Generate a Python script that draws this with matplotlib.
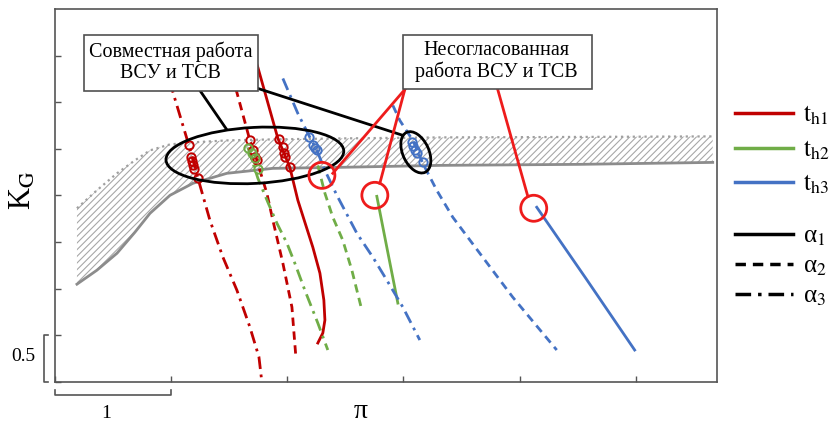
import matplotlib
matplotlib.use("Agg")
import matplotlib.pyplot as plt
from matplotlib.patches import Ellipse, Rectangle
from matplotlib.lines import Line2D
from matplotlib.transforms import ScaledTranslation
import numpy as np

plt.rcParams['font.family'] = ['Liberation Serif', 'DejaVu Serif']
plt.rcParams['mathtext.fontset'] = 'stix'
plt.rcParams['hatch.color'] = '#a8a8a8'
plt.rcParams['hatch.linewidth'] = 0.8

# ---- data ----
band_x = [0.189, 0.361, 0.534, 0.688, 0.818, 0.990, 1.188, 1.480, 1.876, 2.453, 3.313, 4.518, 5.663]
band_hi = [1.863, 2.056, 2.238, 2.377, 2.484, 2.548, 2.570, 2.591, 2.602, 2.612, 2.623, 2.628, 2.634]
band_lo = [1.049, 1.199, 1.381, 1.606, 1.809, 2.002, 2.131, 2.238, 2.291, 2.302, 2.323, 2.334, 2.355]

# t_h1 (red)
h1_a1_x = [1.713, 1.747, 1.919, 1.962, 2.022, 2.091, 2.220, 2.281, 2.315, 2.324, 2.306, 2.263]
h1_a1_y = [3.501, 3.373, 2.612, 2.484, 2.302, 1.949, 1.445, 1.167, 0.878, 0.664, 0.525, 0.418]
h1_a2_x = [1.523, 1.566, 1.678, 1.721, 1.764, 1.824, 1.876, 1.962, 2.040, 2.074]
h1_a2_y = [3.287, 3.105, 2.591, 2.452, 2.270, 2.024, 1.734, 1.274, 0.803, 0.268]
h1_a3_x = [0.990, 1.016, 1.153, 1.231, 1.334, 1.446, 1.566, 1.678, 1.756, 1.781]
h1_a3_y = [3.233, 3.105, 2.537, 2.184, 1.734, 1.338, 0.985, 0.589, 0.268, 0.0]

# t_h2 (green)
h2_a1_x = [2.771, 2.857, 2.952]
h2_a1_y = [1.991, 1.445, 0.846]
h2_a2_x = [2.263, 2.324, 2.392, 2.478, 2.556, 2.642]
h2_a2_y = [2.323, 2.024, 1.767, 1.520, 1.199, 0.771]
h2_a3_x = [1.661, 1.747, 1.833, 1.911, 1.997, 2.065, 2.151, 2.263, 2.349]
h2_a3_y = [2.516, 2.184, 1.927, 1.702, 1.488, 1.274, 0.985, 0.632, 0.343]

# t_h3 (blue)
h3_a1_x = [4.148, 4.570, 4.991]
h3_a1_y = [1.874, 1.113, 0.343]
h3_a2_x = [2.909, 2.969, 3.081, 3.167, 3.287, 3.425, 3.657, 3.941, 4.320]
h3_a2_y = [2.966, 2.805, 2.591, 2.345, 2.056, 1.767, 1.381, 0.910, 0.343]
h3_a3_x = [1.962, 2.091, 2.195, 2.255, 2.324, 2.427, 2.599, 2.737, 2.857, 2.995, 3.141]
h3_a3_y = [3.255, 2.880, 2.623, 2.484, 2.270, 2.002, 1.595, 1.338, 1.092, 0.803, 0.450]

# operating points (open circles)
pts_red_x = [1.153, 1.170, 1.179, 1.188, 1.196, 1.231, 1.678, 1.704, 1.721, 1.738,
             1.928, 1.962, 1.971, 1.979, 2.022]
pts_red_y = [2.537, 2.409, 2.366, 2.323, 2.281, 2.184, 2.591, 2.484, 2.409, 2.377,
             2.602, 2.516, 2.452, 2.409, 2.302]
pts_green_x = [1.661, 1.695, 1.721, 1.747]
pts_green_y = [2.505, 2.452, 2.398, 2.281]
pts_blue_x = [2.186, 2.220, 2.238, 2.255, 3.072, 3.081, 3.098, 3.115, 3.167]
pts_blue_y = [2.623, 2.537, 2.505, 2.484, 2.570, 2.527, 2.484, 2.452, 2.355]

RED = '#c00000'
GREEN = '#70ad47'
BLUE = '#4472c4'
ANN = '#ee1c1c'
DASH = (3, 2)
DASHDOT = (4.5, 2, 1, 2)

fig = plt.figure(figsize=(8.37, 4.23), dpi=100)
ax = fig.add_axes([55 / 837, 41 / 423, 662 / 837, 373 / 423])
ax.set_xlim(0, 5.70)
ax.set_ylim(0, 4.0)

# hatched band
ax.fill_between(band_x, band_lo, band_hi, facecolor='none', edgecolor='#a8a8a8',
                hatch='/////', linewidth=0, zorder=1)
ax.plot(band_x, band_hi, color='#a0a0a0', lw=1.6, ls=':', zorder=2)
ax.plot(band_x, band_lo, color='#8c8c8c', lw=2.0, zorder=2)

lw = 2.0
ax.plot(h1_a1_x, h1_a1_y, color=RED, lw=lw, zorder=3)
ax.plot(h1_a2_x, h1_a2_y, color=RED, lw=lw, dashes=DASH, zorder=3)
ax.plot(h1_a3_x, h1_a3_y, color=RED, lw=lw, dashes=DASHDOT, zorder=3)
ax.plot(h2_a1_x, h2_a1_y, color=GREEN, lw=lw, zorder=3)
ax.plot(h2_a2_x, h2_a2_y, color=GREEN, lw=lw, dashes=DASH, zorder=3)
ax.plot(h2_a3_x, h2_a3_y, color=GREEN, lw=lw, dashes=DASHDOT, zorder=3)
ax.plot(h3_a1_x, h3_a1_y, color=BLUE, lw=lw, zorder=3)
ax.plot(h3_a2_x, h3_a2_y, color=BLUE, lw=lw, dashes=DASH, zorder=3)
ax.plot(h3_a3_x, h3_a3_y, color=BLUE, lw=lw, dashes=DASHDOT, zorder=3)

ax.plot(pts_red_x, pts_red_y, 'o', ms=6, mfc='none', mec=RED, mew=1.4, zorder=4)
ax.plot(pts_green_x, pts_green_y, 'o', ms=6, mfc='none', mec=GREEN, mew=1.4, zorder=4)
ax.plot(pts_blue_x, pts_blue_y, 'o', ms=6, mfc='none', mec=BLUE, mew=1.4, zorder=4)


def shape_at(x, y):
    # shapes sized in inches, anchored at a data point
    return fig.dpi_scale_trans + ScaledTranslation(x, y, ax.transData)


# black ellipses around the clusters
ax.add_patch(Ellipse((0, 0), 1.78, 0.56, angle=3, fill=False, ec='black', lw=2,
                     transform=shape_at(1.721, 2.430), zorder=5))
ax.add_patch(Ellipse((0, 0), 0.44, 0.26, angle=-65, fill=False, ec='black', lw=2,
                     transform=shape_at(3.107, 2.463), zorder=5))

# red circles
for cx, cy in [(2.298, 2.216), (2.754, 2.002), (4.122, 1.863)]:
    ax.add_patch(Ellipse((0, 0), 0.26, 0.26, fill=False, ec=ANN, lw=2,
                         transform=shape_at(cx, cy), zorder=5))

# leader lines
ax.plot([1.248, 1.472], [3.126, 2.719], color='black', lw=2, zorder=5)
ax.plot([1.747, 2.995], [3.148, 2.645], color='black', lw=2, zorder=5)
ax.plot([3.012, 2.392], [3.137, 2.238], color=ANN, lw=2, zorder=5)
ax.plot([3.012, 2.797], [3.137, 2.131], color=ANN, lw=2, zorder=5)
ax.plot([3.812, 4.071], [3.137, 1.991], color=ANN, lw=2, zorder=5)

# text boxes
ax.add_patch(Rectangle((0.250, 3.126), 1.497, 0.600, fc='white', ec='#505050', lw=1.2, zorder=6))
ax.text(0.998, 3.426, 'Совместная работа\nВСУ и ТСВ', ha='center', va='center',
        fontsize=14.5, linespacing=1.15, zorder=7)
ax.add_patch(Rectangle((2.995, 3.137), 1.626, 0.589, fc='white', ec='#505050', lw=1.2, zorder=6))
ax.text(3.804, 3.437, 'Несогласованная\nработа ВСУ и ТСВ', ha='center', va='center',
        fontsize=14.5, linespacing=1.15, zorder=7)

# axes styling
for s in ax.spines.values():
    s.set_color('#555555')
    s.set_linewidth(1.2)
ax.set_xticks(np.arange(0, 6))
ax.set_yticks(np.arange(0, 4.0, 0.5))
ax.tick_params(direction='in', length=4, width=1, color='#555555',
               labelbottom=False, labelleft=False)

ax.set_xlabel('π', fontsize=20, va='center')
ax.xaxis.set_label_coords(0.461, -0.078)
ax.set_ylabel(r'K$_{\mathrm{G}}$', fontsize=22, va='center')
ax.yaxis.set_label_coords(-0.048, 0.515)

# scale brackets
ax.plot([0, 0, 1, 1], [-0.086, -0.139, -0.139, -0.086], color='#555555', lw=1.2, clip_on=False)
ax.text(0.439, -0.343, '1', ha='center', va='center', fontsize=14)
ax.plot([-0.060, -0.095, -0.095, -0.060], [0, 0, 0.5, 0.5], color='#555555', lw=1.2, clip_on=False)
ax.text(-0.275, 0.278, '0.5', ha='center', va='center', fontsize=14)

# legends
h_t = [Line2D([], [], color=c, lw=2.5) for c in (RED, GREEN, BLUE)]
leg1 = ax.legend(h_t, [r'$\mathrm{t}_{\mathrm{h1}}$', r'$\mathrm{t}_{\mathrm{h2}}$', r'$\mathrm{t}_{\mathrm{h3}}$'],
                 loc='upper left', bbox_to_anchor=(1.012, 0.772), frameon=False, fontsize=18,
                 handlelength=2.32, handletextpad=0.4, labelspacing=0.45, borderaxespad=0)
ax.add_artist(leg1)
h_a = [Line2D([], [], color='black', lw=2.5),
       Line2D([], [], color='black', lw=2.5, dashes=DASH),
       Line2D([], [], color='black', lw=2.5, dashes=DASHDOT)]
ax.legend(h_a, [r'α$_{\mathrm{1}}$', r'α$_{\mathrm{2}}$', r'α$_{\mathrm{3}}$'],
          loc='upper left', bbox_to_anchor=(1.012, 0.446), frameon=False, fontsize=18,
          handlelength=2.32, handletextpad=0.4, labelspacing=0.28, borderaxespad=0)

fig.savefig('out.png', dpi=100)
